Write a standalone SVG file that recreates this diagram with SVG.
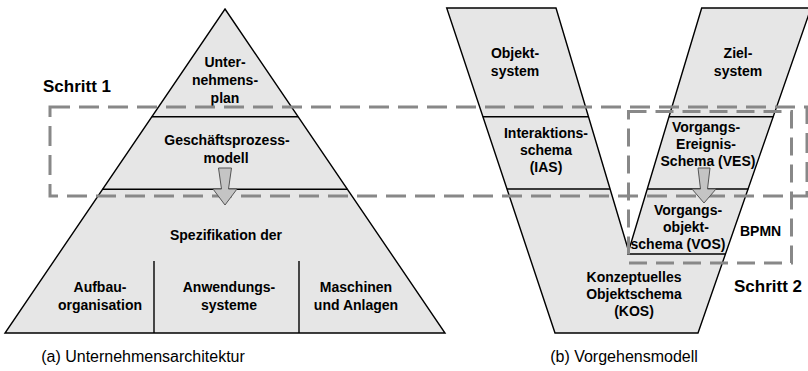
<svg xmlns="http://www.w3.org/2000/svg" width="808" height="371" viewBox="0 0 808 371">
  <defs>
    <style>
      .shape { fill: #e6e6e6; stroke: #000; stroke-width: 1.4; stroke-linejoin: miter; }
      .sep { stroke: #000; stroke-width: 1.4; fill: none; }
      .frame { fill: none; stroke: #888; stroke-width: 3; stroke-dasharray: 20 9; }
      .arrow { fill: #c4c4c4; stroke: #555; stroke-width: 1; stroke-linejoin: round; }
      .lbl { font-family: "Liberation Sans", Arial, sans-serif; font-weight: bold; font-size: 14px; fill: #000; text-anchor: middle; }
      .step { font-family: "Liberation Sans", Arial, sans-serif; font-weight: bold; font-size: 17px; fill: #000; }
      .cap { font-family: "Liberation Sans", Arial, sans-serif; font-size: 16px; fill: #000; text-anchor: middle; }
    </style>
  </defs>

  <!-- (a) enterprise architecture pyramid -->
  <g id="pyramid">
    <polygon class="shape" points="225,9 445,333 5,333"/>
    <line class="sep" x1="151.9" y1="116.7" x2="298.1" y2="116.7"/>
    <line class="sep" x1="102.6" y1="189.3" x2="347.4" y2="189.3"/>
    <line class="sep" x1="154" y1="261" x2="154" y2="333"/>
    <line class="sep" x1="299" y1="261" x2="299" y2="333"/>
  </g>
  <g id="unternehmensplan">
    <text class="lbl" x="225" y="67">Unter-</text>
    <text class="lbl" x="225" y="85">nehmens-</text>
    <text class="lbl" x="225" y="103">plan</text>
  </g>
  <g id="geschaeftsprozessmodell">
    <text class="lbl" x="227" y="145">Geschäftsprozess-</text>
    <text class="lbl" x="226" y="163">modell</text>
  </g>
  <g id="spezifikation">
    <text class="lbl" x="226" y="240">Spezifikation der</text>
  </g>
  <g id="aufbauorganisation">
    <text class="lbl" x="100" y="292">Aufbau-</text>
    <text class="lbl" x="100" y="310">organisation</text>
  </g>
  <g id="anwendungssysteme">
    <text class="lbl" x="229" y="292">Anwendungs-</text>
    <text class="lbl" x="229" y="310">systeme</text>
  </g>
  <g id="maschinen">
    <text class="lbl" x="356" y="292">Maschinen</text>
    <text class="lbl" x="356" y="310">und Anlagen</text>
  </g>

  <!-- (b) V-shaped procedure model -->
  <g id="vmodel">
    <polygon class="shape" points="446.7,8 556,8 628.6,251 701.7,8 811,8 698,333 555,333"/>
    <line class="sep" x1="482.8" y1="116.7" x2="588.4" y2="116.7"/>
    <line class="sep" x1="506.9" y1="189" x2="609.9" y2="189"/>
    <line class="sep" x1="669.1" y1="116.7" x2="773.4" y2="116.7"/>
    <line class="sep" x1="647.2" y1="189" x2="748.4" y2="189"/>
    <line class="sep" x1="627" y1="254" x2="725.8" y2="254"/>
  </g>
  <g id="objektsystem">
    <text class="lbl" x="515" y="58">Objekt-</text>
    <text class="lbl" x="515" y="76">system</text>
  </g>
  <g id="zielsystem">
    <text class="lbl" x="738" y="58">Ziel-</text>
    <text class="lbl" x="738" y="76">system</text>
  </g>
  <g id="ias">
    <text class="lbl" x="546" y="138">Interaktions-</text>
    <text class="lbl" x="546" y="155">schema</text>
    <text class="lbl" x="546" y="172">(IAS)</text>
  </g>
  <g id="ves">
    <text class="lbl" x="706" y="132">Vorgangs-</text>
    <text class="lbl" x="706" y="149">Ereignis-</text>
    <text class="lbl" x="708" y="166">Schema (VES)</text>
  </g>
  <g id="vos">
    <text class="lbl" x="688" y="215">Vorgangs-</text>
    <text class="lbl" x="686" y="232">objekt-</text>
    <text class="lbl" x="678" y="249">schema (VOS)</text>
  </g>
  <g id="kos">
    <text class="lbl" x="634" y="282">Konzeptuelles</text>
    <text class="lbl" x="634" y="299">Objektschema</text>
    <text class="lbl" x="634" y="316">(KOS)</text>
  </g>

  <!-- step frames -->
  <g id="schritt1">
    <rect class="frame" x="50" y="107" width="757" height="89"/>
    <text class="step" x="43" y="92">Schritt 1</text>
  </g>
  <g id="schritt2">
    <rect class="frame" x="628.5" y="111.5" width="163" height="151.5" style="stroke-dasharray: 18 9"/>
    <text class="step" x="734" y="292">Schritt 2</text>
    <text class="lbl" x="740" y="236" style="text-anchor: start">BPMN</text>
  </g>

  <!-- refinement arrows -->
  <g id="connectors">
    <path class="arrow" d="M218.5,168 L231.5,168 L228.5,189 L237,189 L225,205 L213,189 L221.5,189 Z"/>
    <path class="arrow" d="M698,168 L710,168 L707.5,189 L716,189 L704,203 L692,189 L700.5,189 Z"/>
  </g>

  <!-- captions -->
  <text class="cap" x="143" y="362">(a) Unternehmensarchitektur</text>
  <text class="cap" x="624" y="362">(b) Vorgehensmodell</text>
</svg>
